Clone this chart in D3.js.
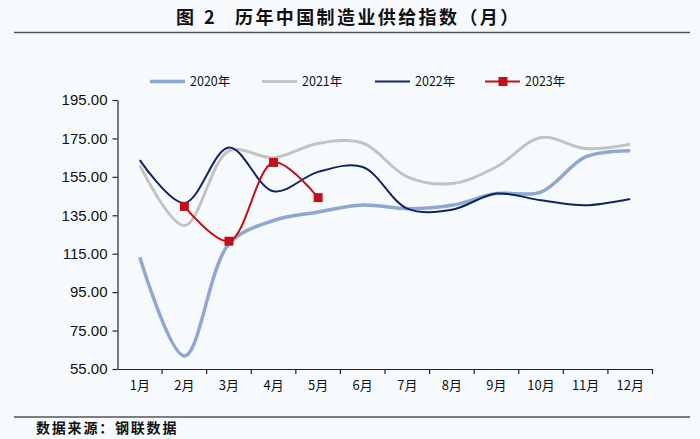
<!DOCTYPE html>
<html><head><meta charset="utf-8">
<script src="https://cdn.jsdelivr.net/npm/d3@7"></script>
<style>
html,body{margin:0;padding:0;background:#f7fafd;}
svg{display:block;}
</style></head>
<body><svg id="c" width="700" height="439"></svg>
<script>
const months = ["1月","2月","3月","4月","5月","6月","7月","8月","9月","10月","11月","12月"];
const yTicks = [55,75,95,115,135,155,175,195];
const s2020 = [113.2,61.8,120.1,132.3,136.7,140.4,138.4,140.2,146.3,147.1,165.4,168.6];
const s2021 = [161.0,129.7,168.5,165.0,172.4,172.6,155.0,151.5,160.2,175.5,169.7,172.0];
const s2022 = [163.7,141.4,170.3,147.5,157.6,160.1,138.5,137.9,146.3,142.8,140.2,143.5];
const s2023 = [139.6,121.5,162.5,144.2];
const m2023 = ["2月","3月","4月","5月"];
const seriesNames = ["2020年","2021年","2022年","2023年"];

const svg = d3.select("#c");
const cjk = "'Noto Sans CJK SC', 'Noto Sans', sans-serif";
const lat = "'Liberation Sans', Arial, sans-serif";

// title
svg.append("text").attr("x",176).attr("y",24)
  .attr("font-family",cjk).attr("font-weight","bold").attr("font-size",18).attr("fill","#111")
  .attr("letter-spacing",3).text("图 2");
svg.append("text").attr("x",235).attr("y",24)
  .attr("font-family",cjk).attr("font-weight","bold").attr("font-size",18).attr("fill","#111")
  .attr("letter-spacing",2.4).text("历年中国制造业供给指数（月）");
svg.append("line").attr("x1",14).attr("x2",690).attr("y1",32.5).attr("y2",32.5).attr("stroke","#555").attr("stroke-width",1.3);
svg.append("line").attr("x1",14).attr("x2",690).attr("y1",417).attr("y2",417).attr("stroke","#555").attr("stroke-width",1.3);
svg.append("text").attr("x",36).attr("y",433).attr("font-family",cjk).attr("font-weight","bold")
  .attr("font-size",14).attr("letter-spacing",1.8).attr("fill","#111").text("数据来源：钢联数据");

const x = d3.scaleBand().domain(months).range([117.5,652.5]);
const y = d3.scaleLinear().domain([55,195]).range([369,100]);

const gx = svg.append("g").attr("transform","translate(0,369)")
  .call(d3.axisBottom(x).tickSize(0).tickPadding(12));
gx.select(".domain").attr("stroke","#222").attr("stroke-width",1.2);
gx.selectAll("text").attr("font-family",cjk).attr("font-size",13).attr("fill","#111");
// band boundary ticks
svg.append("g").selectAll("line").data(months).join("line")
  .attr("x1",d=>x(d)+x.bandwidth()).attr("x2",d=>x(d)+x.bandwidth())
  .attr("y1",369).attr("y2",374).attr("stroke","#222").attr("stroke-width",1.2);

const gy = svg.append("g").attr("transform","translate(117.5,0)")
  .call(d3.axisLeft(y).tickValues(yTicks).tickSize(5).tickSizeOuter(0).tickFormat(d=>d3.format(".2f")(d)));
gy.select(".domain").attr("stroke","#222").attr("stroke-width",1.2);
gy.selectAll(".tick line").attr("stroke","#222").attr("stroke-width",1.2);
gy.selectAll("text").attr("font-family",lat).attr("font-size",15).attr("fill","#111").attr("dx",-2);

const cx = m => x(m) + x.bandwidth()/2;
const line = d3.line().curve(d3.curveCatmullRom.alpha(0.5));

const styles = [
  {data:s2020, cats:months, color:"#8ea8cf", w:3.5},
  {data:s2021, cats:months, color:"#c3c3c3", w:3},
  {data:s2022, cats:months, color:"#0f2462", w:2},
  {data:s2023, cats:m2023, color:"#c0111a", w:2}
];
styles.forEach(s=>{
  svg.append("path").attr("d", line(s.data.map((v,i)=>[cx(s.cats[i]), y(v)])))
    .attr("fill","none").attr("stroke",s.color).attr("stroke-width",s.w).attr("stroke-linejoin","round");
});
svg.append("g").selectAll("rect").data(s2023).join("rect")
  .attr("x",(d,i)=>cx(m2023[i])-4.5).attr("y",d=>y(d)-4.5).attr("width",9).attr("height",9).attr("fill","#c0111a");

// legend
const lx = [150,262,375,485];
const lg = svg.append("g");
styles.forEach((s,i)=>{
  lg.append("line").attr("x1",lx[i]).attr("x2",lx[i]+35).attr("y1",81.5).attr("y2",81.5)
    .attr("stroke",s.color).attr("stroke-width",s.w);
  if(i===3) lg.append("rect").attr("x",lx[i]+13.5).attr("y",77).attr("width",9).attr("height",9).attr("fill",s.color);
  lg.append("text").attr("x",lx[i]+40).attr("y",86).attr("font-family",cjk).attr("font-size",12.5)
    .attr("fill","#111").text(seriesNames[i]);
});
</script></body></html>
